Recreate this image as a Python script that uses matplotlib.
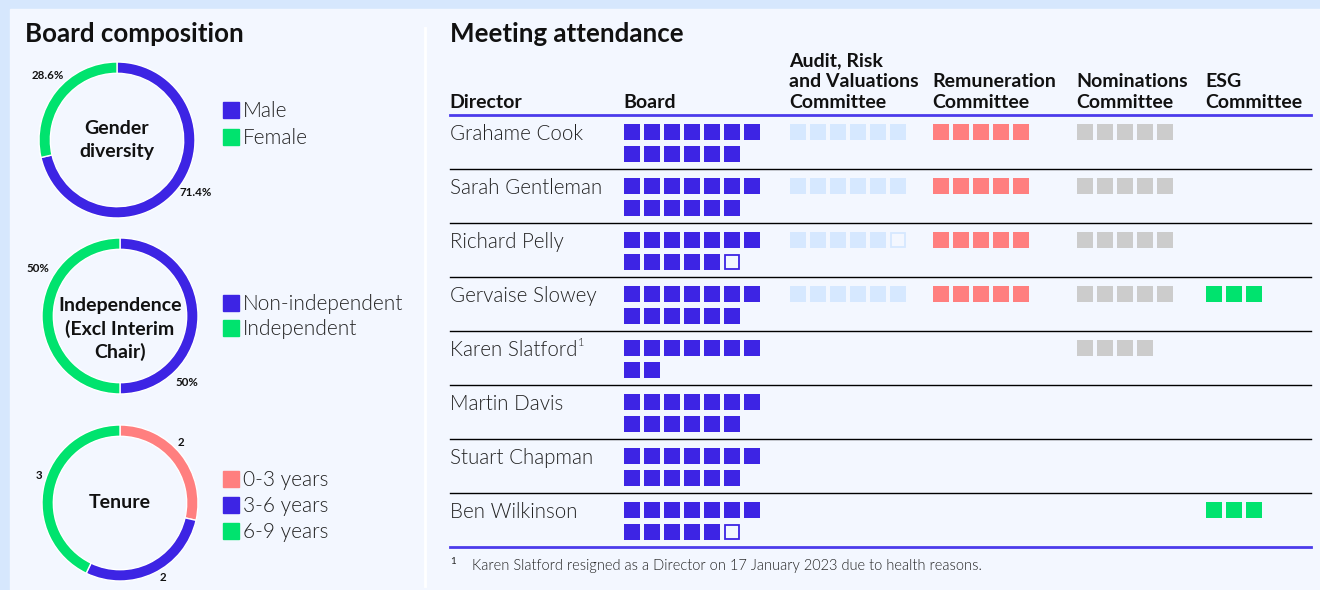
import numpy as np
import matplotlib
matplotlib.use("Agg")
import matplotlib.pyplot as plt
from matplotlib.patches import Rectangle

plt.rcParams["font.family"] = ["Lato", "DejaVu Sans"]

OUTER = "#D6E7FD"
PANEL = "#F3F7FF"
TEXT = "#111111"
BLUE = "#3D24E4"
LINE_BLUE = "#4B3BEB"
GREEN = "#00E36E"
SALMON = "#FF7F7F"
LIGHT = "#D6E8FF"
GREY = "#CCCCCC"
LIGHT_W = 300

W, H = 1320, 590

# ---- board composition data
gender_labels = ["Male", "Female"]
gender_values = [71.4, 28.6]
gender_text = ["71.4%", "28.6%"]

indep_labels = ["Non-independent", "Independent"]
indep_values = [50, 50]
indep_text = ["50%", "50%"]

tenure_labels = ["0-3 years", "3-6 years", "6-9 years"]
tenure_values = [2, 2, 3]
tenure_text = ["2", "2", "3"]

# ---- meeting attendance data
directors = ["Grahame Cook", "Sarah Gentleman", "Richard Pelly", "Gervaise Slowey",
             "Karen Slatford", "Martin Davis", "Stuart Chapman", "Ben Wilkinson"]
board_attended = [13, 13, 12, 13, 9, 13, 13, 12]
board_total = [13, 13, 13, 13, 9, 13, 13, 13]
audit_attended = [6, 6, 5, 6, 0, 0, 0, 0]
audit_total = [6, 6, 6, 6, 0, 0, 0, 0]
remun_attended = [5, 5, 5, 5, 0, 0, 0, 0]
remun_total = [5, 5, 5, 5, 0, 0, 0, 0]
nom_attended = [5, 5, 5, 5, 4, 0, 0, 0]
nom_total = [5, 5, 5, 5, 4, 0, 0, 0]
esg_attended = [0, 0, 0, 3, 0, 0, 0, 3]
esg_total = [0, 0, 0, 3, 0, 0, 0, 3]

headers = ["Director", "Board", "Audit, Risk\nand Valuations\nCommittee",
           "Remuneration\nCommittee", "Nominations\nCommittee", "ESG\nCommittee"]
footnote = "Karen Slatford resigned as a Director on 17 January 2023 due to health reasons."

fig = plt.figure(figsize=(W / 100, H / 100), dpi=100, facecolor=OUTER)
ax = fig.add_axes([0, 0, 1, 1])
ax.set_xlim(0, W)
ax.set_ylim(H, 0)
ax.axis("off")

ax.add_patch(Rectangle((10, 9), W - 10, H - 9, color=PANEL, zorder=0))
ax.plot([425, 425], [28, 586], color="white", lw=2, zorder=1)

# ---- donuts
ax.text(25, 34, "Board composition", fontsize=18.6, fontweight="bold",
        color=TEXT, va="center", ha="left")


def donut(cx, cy, values, colors, texts, label_ang, center, leg_labels, leg_colors, leg_y,
          center_dy=0.0):
    r = 78
    m = 1.45
    dax = fig.add_axes([(cx - r * m) / W, 1 - (cy + r * m) / H, 2 * r * m / W, 2 * r * m / H])
    dax.pie(values, colors=colors, startangle=90, counterclock=False,
            radius=1, wedgeprops=dict(width=0.145, edgecolor="white", linewidth=1))
    dax.set_xlim(-m, m)
    dax.set_ylim(-m, m)
    dax.axis("off")
    for t, a in zip(texts, label_ang):
        a = np.deg2rad(a)
        rr = 1.1 if len(t) == 1 else 1.21
        dax.text(rr * np.cos(a), rr * np.sin(a), t, fontsize=8.3, fontweight="bold",
                 ha="center", va="center", color=TEXT)
    dax.text(0, -center_dy / r, center, fontsize=14, fontweight="bold", ha="center",
             va="center", color=TEXT, linespacing=1.38)
    for lab, col, y in zip(leg_labels, leg_colors, leg_y):
        ax.add_patch(Rectangle((223, y - 8), 16, 16, color=col, zorder=2))
        ax.text(243, y + 1, lab, fontsize=15, fontweight=LIGHT_W, color="#222222",
                va="center", ha="left")


donut(117, 140, gender_values, [BLUE, GREEN], gender_text, [-34, 137],
      "Gender\ndiversity", gender_labels, [BLUE, GREEN], [110, 137])
donut(120, 316, indep_values, [BLUE, GREEN], indep_text, [-45, 150],
      "Independence\n(Excl Interim\nChair)", indep_labels, [BLUE, GREEN], [303, 328],
      center_dy=13)
donut(120, 503, tenure_values, [SALMON, BLUE, GREEN], tenure_text, [45, -60, 161],
      "Tenure", tenure_labels, [SALMON, BLUE, GREEN], [479, 505, 531])

# ---- attendance table
ax.text(450, 34, "Meeting attendance", fontsize=18.6, fontweight="bold",
        color=TEXT, va="center", ha="left")

col_x = [449, 623, 789, 932, 1076, 1205]
for hx, h in zip(col_x, headers):
    ax.text(hx, 111, h, fontsize=14, fontweight="bold", color=TEXT,
            va="bottom", ha="left", linespacing=1.26)

top = 115
row_h = 54
ax.plot([450, 1311], [top, top], color=LINE_BLUE, lw=2, zorder=3)
n = len(directors)
for i in range(1, n):
    y = top + i * row_h
    ax.plot([450, 1311], [y, y], color="black", lw=1, zorder=3)
ax.plot([450, 1311], [top + n * row_h, top + n * row_h], color=LINE_BLUE, lw=2, zorder=3)

committees = [
    (624, board_attended, board_total, BLUE),
    (790, audit_attended, audit_total, LIGHT),
    (933, remun_attended, remun_total, SALMON),
    (1077, nom_attended, nom_total, GREY),
    (1206, esg_attended, esg_total, GREEN),
]
sq, pitch_x, pitch_y, per_row = 16, 20, 22, 7

for i, name in enumerate(directors):
    y0 = top + i * row_h
    ax.text(450, y0 + 19, name, fontsize=14.8, fontweight=LIGHT_W, color="#222222",
            va="center", ha="left")
    for x0, att, tot, col in committees:
        for k in range(tot[i]):
            sx = x0 + (k % per_row) * pitch_x
            sy = y0 + 9 + (k // per_row) * pitch_y
            if k < att[i]:
                ax.add_patch(Rectangle((sx, sy), sq, sq, facecolor=col, edgecolor="none", zorder=2))
            else:
                ax.add_patch(Rectangle((sx + 0.8, sy + 0.8), sq - 1.6, sq - 1.6, facecolor=PANEL,
                                       edgecolor=col, lw=1.3, zorder=2))

# superscript after Karen Slatford
fig.canvas.draw()
ki = directors.index("Karen Slatford")
t = [tx for tx in ax.texts if tx.get_text() == "Karen Slatford"][0]
bb = t.get_window_extent().transformed(ax.transData.inverted())
ax.text(bb.x1 + 1, top + ki * row_h + 12, "1", fontsize=8, fontweight=LIGHT_W,
        color="#222222", va="center", ha="left")

ax.text(450, 562, "1", fontsize=7, color="#222222", va="center", ha="left")
ax.text(472, 566, footnote, fontsize=10.5, fontweight=LIGHT_W, color="#222222",
        va="center", ha="left")

fig.savefig("out.png", dpi=100, facecolor=OUTER)
